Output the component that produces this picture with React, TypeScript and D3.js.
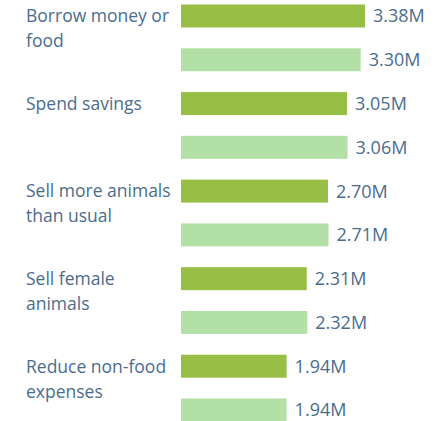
import React from "react";
import * as d3 from "d3";

const categories: string[][] = [
  ["Borrow money or", "food"],
  ["Spend savings"],
  ["Sell more animals", "than usual"],
  ["Sell female", "animals"],
  ["Reduce non-food", "expenses"],
];
const seriesA: number[] = [3.38, 3.05, 2.70, 2.31, 1.94];
const seriesB: number[] = [3.30, 3.06, 2.71, 2.32, 1.94];

const W = 440;
const H = 421;
const colorA = "#98BF45";
const colorB = "#B3E0A6";
const textColor = "#4A6D8E";
const font = "'Open Sans', sans-serif";

export default function App() {
  const x = d3.scaleLinear().domain([0, 3.38]).range([181, 365]);
  const rows = categories.flatMap((c, i) => [
    { key: `a${i}`, v: seriesA[i], color: colorA },
    { key: `b${i}`, v: seriesB[i], color: colorB },
  ]);
  const y = d3
    .scaleBand<string>()
    .domain(rows.map((r) => r.key))
    .range([-5.9, 431.9])
    .paddingInner(0.475)
    .paddingOuter(0.2375);
  const fmt = (v: number) => d3.format(".2f")(v) + "M";
  return (
    <svg
      width={W}
      height={H}
      style={{ position: "absolute", left: 0, top: 0, background: "#fff" }}
      fontFamily={font}
    >
      {rows.map((r) => {
        const yy = y(r.key)!;
        return (
          <g key={r.key}>
            <rect x={x(0)} y={yy} width={x(r.v) - x(0)} height={y.bandwidth()} fill={r.color} />
            <text
              x={x(r.v) + 8}
              y={yy + y.bandwidth() / 2}
              dy="0.36em"
              fontSize={18}
              fill={textColor}
            >
              {fmt(r.v)}
            </text>
          </g>
        );
      })}
      {categories.map((lines, i) => {
        const yy = y(`a${i}`)! + y.bandwidth() / 2;
        return (
          <text key={i} x={26} y={yy} fontSize={17.5} fill={textColor}>
            {lines.map((l, j) => (
              <tspan key={j} x={26} dy={j === 0 ? "0.36em" : 25}>
                {l}
              </tspan>
            ))}
          </text>
        );
      })}
    </svg>
  );
}
